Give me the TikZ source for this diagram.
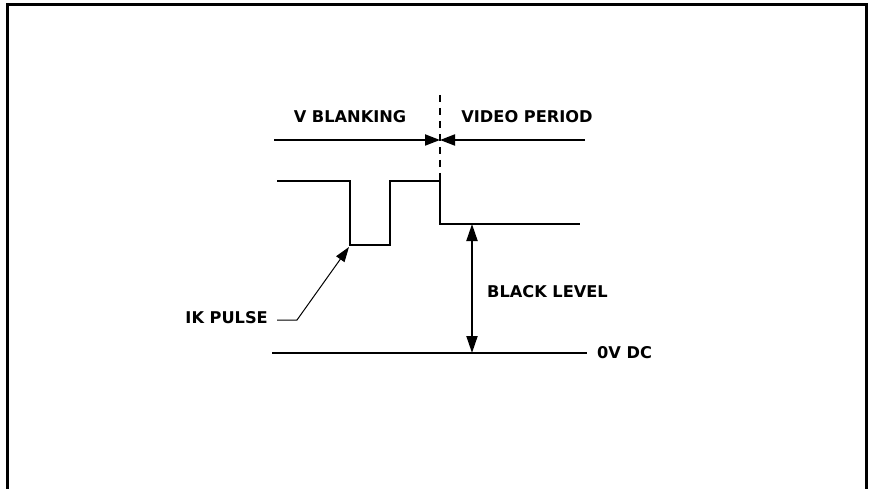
\documentclass[tikz,border=0pt]{standalone}
\usepackage{fontspec}
\setmainfont{DejaVu Sans}
\usetikzlibrary{arrows.meta}
\begin{document}
\begin{tikzpicture}[x=1pt,y=-1pt,
  lbl/.style={font=\fontsize{16.2}{18}\selectfont\bfseries, inner sep=0pt},
  wave/.style={line width=2.2pt},
  frame/.style={line width=3pt},
  arr/.style={line width=2pt, -{Triangle[length=15pt,width=11pt]}},
  darr/.style={line width=2pt, {Triangle[length=17pt,width=11pt]}-{Triangle[length=17pt,width=11pt]}}
]
\useasboundingbox (0,0) rectangle (878,489);
% frame
\draw[frame] (7,489) -- (7,5) -- (866,5) -- (866,489);
% labels
\node[lbl] (vb) at (350,117) {V BLANKING};
\node[lbl] (vp) at (527,117) {VIDEO PERIOD};
\node[lbl, anchor=west] (bl) at (487,292) {BLACK LEVEL};
\node[lbl, anchor=west] (dc) at (597,353) {0V DC};
\node[lbl, anchor=east] (ik) at (268,318) {IK PULSE};
% coordinates
\coordinate (dtop) at (440,95);
\coordinate (mid) at (440,140);
\coordinate (hl) at (274,140);
\coordinate (hr) at (585,140);
\coordinate (w0) at (277,181);
\coordinate (w1) at (350,181);
\coordinate (w2) at (350,245);
\coordinate (w3) at (390,245);
\coordinate (w4) at (390,181);
\coordinate (w5) at (440,181);
\coordinate (w6) at (440,224);
\coordinate (w7) at (580,224);
\coordinate (blt) at (472,224);
\coordinate (blb) at (472,353);
\coordinate (zl) at (272,353);
\coordinate (zr) at (587,353);
\coordinate (ik0) at (277,320);
\coordinate (ik1) at (297,320);
\coordinate (ikt) at (349,247);
% dashed divider
\draw[line width=2pt, dash pattern=on 7pt off 6pt] (dtop) -- (w5);
% period arrows
\draw[arr] (hl) -- (mid);
\draw[arr] (hr) -- (mid);
% waveform
\draw[wave] (w0) -- (w1) -- (w2) -- (w3) -- (w4) -- (w5) -- (w6) -- (w7);
% 0V line
\draw[wave] (zl) -- (zr);
% black level
\draw[darr] (blt) -- (blb);
% IK pulse leader
\draw[line width=1pt, -{Triangle[length=15pt,width=10pt]}] (ik0) -- (ik1) -- (ikt);
\end{tikzpicture}
\end{document}
